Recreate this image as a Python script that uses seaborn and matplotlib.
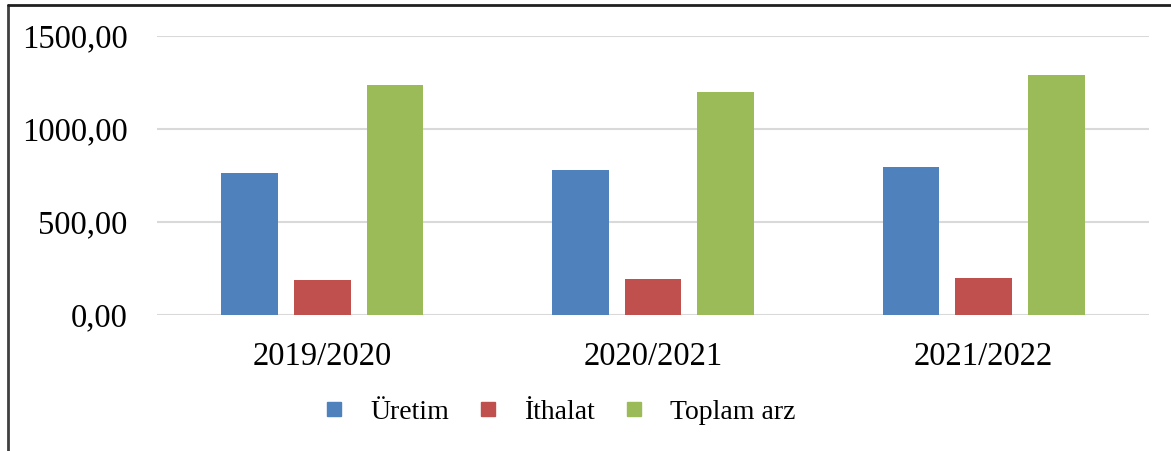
import pandas as pd
import numpy as np
import matplotlib.pyplot as plt
import seaborn as sns
from matplotlib.lines import Line2D

# data
years = ["2019/2020", "2020/2021", "2021/2022"]
uretim = [763, 777, 796]
ithalat = [186, 194, 201]
toplam_arz = [1237, 1199, 1290]
series = ["Üretim", "İthalat", "Toplam arz"]
colors = ["#4F81BD", "#C0504D", "#9BBB59"]

df = pd.DataFrame({"Yıl": years, "Üretim": uretim, "İthalat": ithalat, "Toplam arz": toplam_arz})
df = df.melt(id_vars="Yıl", var_name="Seri", value_name="Değer")

sns.set_style("white")
plt.rcParams["font.family"] = ["Liberation Serif", "DejaVu Serif"]
plt.rcParams["text.color"] = "black"

fig = plt.figure(figsize=(11.71, 4.51), dpi=100)
ax = fig.add_axes([157 / 1171, 1 - 315 / 451, (1149 - 157) / 1171, (315 - 36) / 451])

sns.barplot(data=df, x="Yıl", y="Değer", hue="Seri", hue_order=series, palette=colors,
            width=0.66, gap=0.22, saturation=1, ax=ax, legend=False, linewidth=0)

ax.set_ylim(0, 1500)
ax.set_xlim(-0.5, 2.5)
ax.set_yticks([0, 500, 1000, 1500])
ax.set_yticklabels(["0,00", "500,00", "1000,00", "1500,00"])
ax.set_xlabel("")
ax.set_ylabel("")
ax.yaxis.grid(True, color="#d9d9d9", linewidth=1.5)
ax.set_axisbelow(True)
ax.tick_params(axis="both", length=0, labelsize=23.5, colors="black")
ax.tick_params(axis="y", pad=21)
ax.tick_params(axis="x", pad=19)
for s in ax.spines.values():
    s.set_visible(False)

# outer chart border (left and top edges visible)
fig.add_artist(Line2D([7.5 / 1171, 7.5 / 1171], [0, 1 - 5 / 451], color="#404040", linewidth=2))
fig.add_artist(Line2D([7.5 / 1171, 1], [1 - 5 / 451, 1 - 5 / 451], color="#202020", linewidth=2))

handles = [Line2D([], [], marker="s", linestyle="", markersize=10, color=c) for c in colors]
fig.legend(handles, series, loc="center", bbox_to_anchor=(558 / 1171, 1 - 412 / 451),
           ncol=3, frameon=False, fontsize=20, handletextpad=0.8, columnspacing=0.9,
           handlelength=1.0, labelcolor="black")

fig.savefig("out.png", dpi=100)
